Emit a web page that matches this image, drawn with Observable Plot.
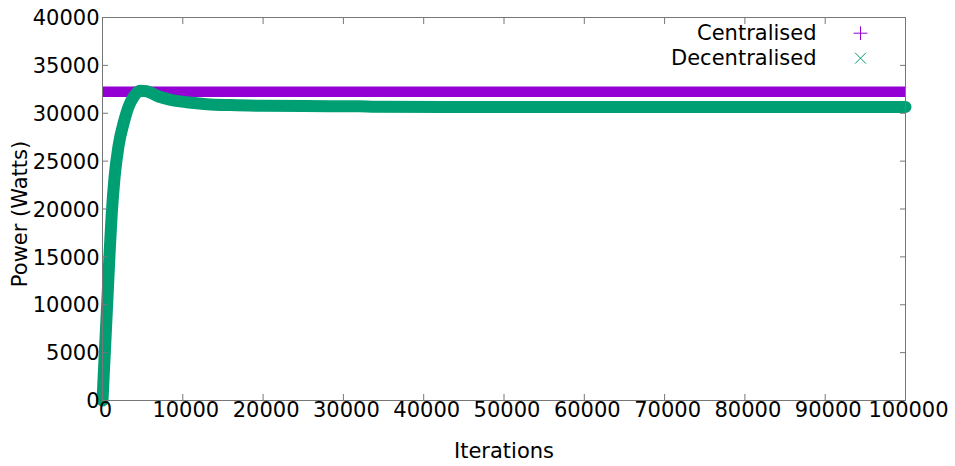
<!DOCTYPE html>
<html>
<head>
<meta charset="utf-8">
<script src="https://cdn.jsdelivr.net/npm/d3@7"></script>
<script src="https://cdn.jsdelivr.net/npm/@observablehq/plot@0.6"></script>
<style>
  body { margin: 0; background: #fff; }
</style>
</head>
<body>
<div id="chart"></div>
<script>
// Series names and colours
const seriesNames = ["Centralised", "Decentralised"];
const seriesColors = ["#9400d3", "#009e73"];
const seriesSymbols = ["plus", "times"];

// Centralised power: constant over the run
const centralisedIterations = [0, 100000];
const centralisedPower = [32250, 32250];

// Decentralised power: fast rise, small overshoot, settles
const decentralisedIterations = [0, 300, 600, 900, 1150, 1500, 2000, 2700, 3300, 3900, 4700, 5500, 7000, 8500, 10500, 13000, 16000, 20000, 25000, 32000, 34000, 50000, 100000];
const decentralisedPower = [0, 5200, 10400, 15700, 19500, 23300, 26600, 29200, 30800, 31750, 32350, 32300, 31750, 31400, 31150, 30950, 30850, 30780, 30750, 30720, 30680, 30660, 30650];

// Axis ticks
const xTicks = [0, 10000, 20000, 30000, 40000, 50000, 60000, 70000, 80000, 90000, 100000];
const yTicks = [0, 5000, 10000, 15000, 20000, 25000, 30000, 35000, 40000];

const centralised = centralisedIterations.map((x, i) => ({x, y: centralisedPower[i]}));
const decentralised = decentralisedIterations.map((x, i) => ({x, y: decentralisedPower[i]}));

const frameColor = "#777";
const symbolRadius = [4.5, 5];

const legendMarks = seriesNames.flatMap((name, i) => [
  Plot.text([name], {
    frameAnchor: "top-right", text: d => d, textAnchor: "end", lineAnchor: "bottom",
    dx: -89, dy: 22 + i * 25.7, fill: "black"
  }),
  Plot.dot([name], {
    frameAnchor: "top-right", symbol: seriesSymbols[i], r: symbolRadius[i],
    stroke: seriesColors[i], strokeWidth: 1, dx: -45, dy: 15.7 + i * 25
  })
]);

const chart = Plot.plot({
  width: 955,
  height: 466,
  marginLeft: 102,
  marginRight: 50,
  marginTop: 17,
  marginBottom: 66,
  style: {fontFamily: "DejaVu Sans", fontSize: "21px", color: "black", background: "white", overflow: "visible"},
  x: {domain: [0, 100000], ticks: xTicks, label: null},
  y: {domain: [0, 40000], ticks: yTicks, label: null},
  marks: [
    Plot.line(centralised, {x: "x", y: "y", stroke: seriesColors[0], strokeWidth: 10.5, strokeLinecap: "butt"}),
    Plot.line(decentralised, {x: "x", y: "y", stroke: seriesColors[1], strokeWidth: 12, curve: "monotone-x"}),
    Plot.frame({stroke: frameColor}),
    // inward tick marks on all four sides
    Plot.axisX({anchor: "bottom", ticks: xTicks, tickSize: -6, tickFormat: () => "", stroke: frameColor, label: null}),
    Plot.axisX({anchor: "top", ticks: xTicks, tickSize: -6, tickFormat: () => "", stroke: frameColor, label: null}),
    Plot.axisY({anchor: "left", ticks: yTicks, tickSize: -6, tickFormat: () => "", stroke: frameColor, label: null}),
    Plot.axisY({anchor: "right", ticks: yTicks, tickSize: -6, tickFormat: () => "", stroke: frameColor, label: null}),
    // tick labels
    Plot.axisX({anchor: "bottom", ticks: xTicks, tickSize: 0, tickPadding: 2, dx: 3, tickFormat: d => String(d), label: null, fill: "black"}),
    Plot.axisY({anchor: "left", ticks: yTicks, tickSize: 0, tickPadding: 3, dy: 1, tickFormat: d => String(d), label: null, fill: "black"}),
    // axis titles
    Plot.text(["Iterations"], {frameAnchor: "bottom", text: d => d, lineAnchor: "bottom", dy: 57, fill: "black"}),
    Plot.text(["Power (Watts)"], {frameAnchor: "left", text: d => d, rotate: -90, textAnchor: "middle", lineAnchor: "bottom", dx: -76, dy: 5, fill: "black"}),
    ...legendMarks
  ]
});

document.getElementById("chart").append(chart);
</script>
</body>
</html>
